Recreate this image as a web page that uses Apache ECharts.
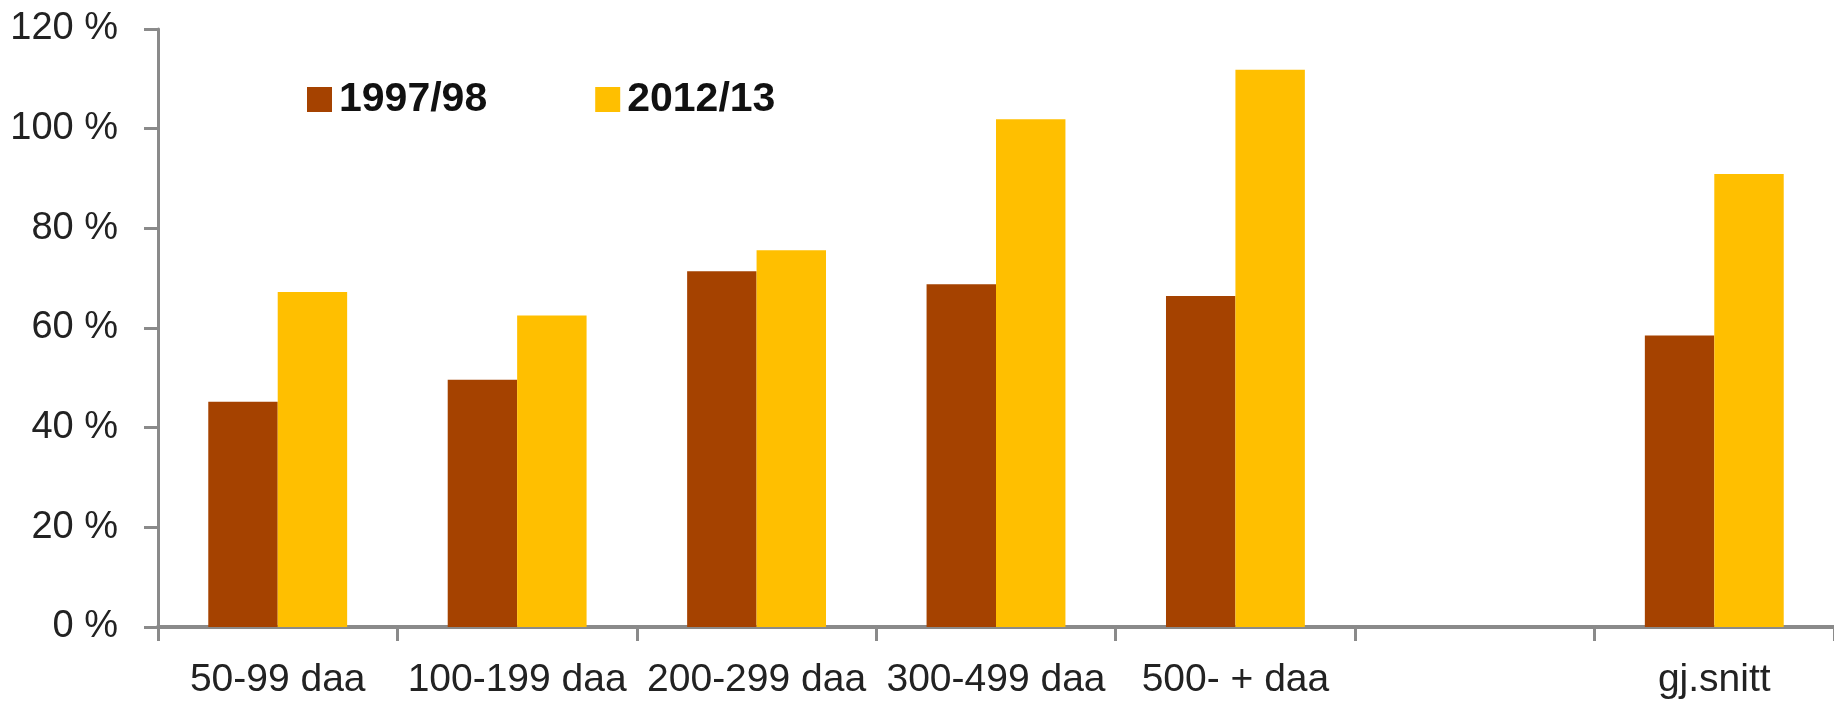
<!DOCTYPE html>
<html>
<head>
<meta charset="utf-8">
<script src="https://cdn.jsdelivr.net/npm/echarts@6/dist/echarts.min.js"></script>
<style>
  html, body { margin: 0; padding: 0; background: #fff; }
  #chart { width: 1834px; height: 703px; }
</style>
</head>
<body>
<div id="chart"></div>
<script>
const categories = ["50-99 daa", "100-199 daa", "200-299 daa", "300-499 daa", "500- + daa", "", "gj.snitt"];
const values9798 = [45.2, 49.6, 71.4, 68.8, 66.4, null, 58.5];
const values1213 = [67.2, 62.5, 75.6, 101.9, 111.8, null, 90.9];
const yTicks = [0, 120, 20];

const chart = echarts.init(document.getElementById("chart"));
chart.setOption({
  animation: false,
  textStyle: { fontFamily: "Liberation Sans" },
  legend: {
    left: 302,
    top: 74,
    itemWidth: 25,
    itemHeight: 25,
    itemGap: 108,
    icon: "rect",
    textStyle: { fontSize: 41, fontWeight: "bold", color: "#111", padding: [0, 0, 0, 2] },
    data: ["1997/98", "2012/13"],
  },
  grid: { left: 158, top: 29, bottom: 76, right: -8 },
  xAxis: {
    type: "category",
    data: categories,
    axisLine: { lineStyle: { color: "#8a8a8a", width: 4 } },
    axisTick: { show: true, length: 14, lineStyle: { color: "#8a8a8a", width: 3 } },
    axisLabel: {
      fontSize: 39,
      fontFamily: "'Liberation Sans Narrow', 'Liberation Sans'",
      color: "#222",
      margin: 34,
      interval: 0,
    },
  },
  yAxis: {
    type: "value",
    min: yTicks[0],
    max: yTicks[1],
    interval: yTicks[2],
    axisLine: { show: true, lineStyle: { color: "#8a8a8a", width: 3 } },
    axisTick: { show: true, length: 14, lineStyle: { color: "#8a8a8a", width: 3 } },
    axisLabel: { fontSize: 38, color: "#222", margin: 40, formatter: "{value} %" },
    splitLine: { show: false },
  },
  series: [
    {
      name: "1997/98",
      type: "bar",
      data: values9798,
      barGap: "0%",
      barCategoryGap: "42%",
      itemStyle: { color: "#A54200" },
    },
    {
      name: "2012/13",
      type: "bar",
      data: values1213,
      itemStyle: { color: "#FFBF00" },
    },
  ],
});
</script>
</body>
</html>
